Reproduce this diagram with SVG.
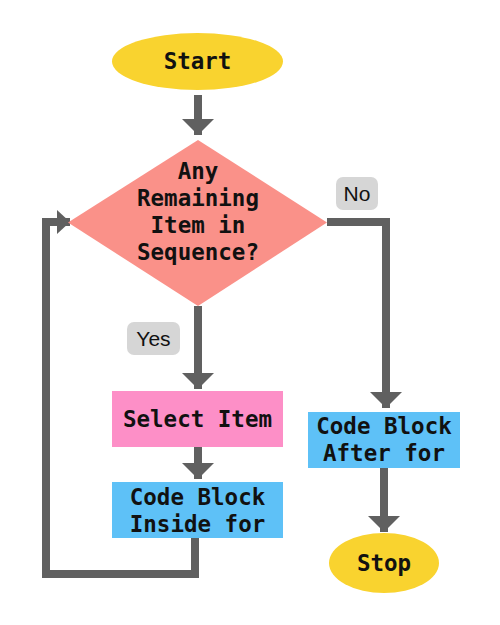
<svg xmlns="http://www.w3.org/2000/svg" width="500" height="625" viewBox="0 0 500 625">
<style>
.t{font-family:"DejaVu Sans Mono","Liberation Mono",monospace;font-weight:bold;font-size:22.5px;fill:#111;text-anchor:middle}
.l{font-family:"Liberation Sans","DejaVu Sans",sans-serif;font-size:21px;fill:#111;text-anchor:middle}
.c{fill:none;stroke:#606060;stroke-width:8}
.lb{fill:#d6d6d6}
</style>
<defs>
<marker id="ah" markerUnits="userSpaceOnUse" markerWidth="16" markerHeight="32" refX="16" refY="16" orient="auto" viewBox="0 0 16 32">
<path d="M0,0 L16,16 L0,32 Z" fill="#606060"/>
</marker>
<marker id="ahs" markerUnits="userSpaceOnUse" markerWidth="13" markerHeight="24" refX="13" refY="12" orient="auto" viewBox="0 0 13 24">
<path d="M0,0 L13,12 L0,24 Z" fill="#606060"/>
</marker>
</defs>
<rect width="500" height="625" fill="#fff"/>
<g id="connectors">
<path class="c" d="M198,95 L198,135" marker-end="url(#ah)"/>
<path class="c" d="M198,306 L198,389" marker-end="url(#ah)"/>
<path class="c" d="M198,447 L198,479" marker-end="url(#ah)"/>
<path class="c" d="M327,222 L386,222 L386,408" marker-end="url(#ah)"/>
<path class="c" d="M384,468 L384,532" marker-end="url(#ah)"/>
<path class="c" d="M195,538 L195,574 L46,574 L46,222 L70,222" marker-end="url(#ahs)"/>
</g>
<g id="start">
<ellipse cx="197.5" cy="61.5" rx="85.5" ry="28.5" fill="#f9d32f"/>
<text class="t" x="197.5" y="69">Start</text>
</g>
<g id="decision">
<polygon points="198,140 327,222.5 198,306 68,222.5" fill="#fa9189"/>
<text class="t" x="198" y="179">Any</text>
<text class="t" x="198" y="206">Remaining</text>
<text class="t" x="198" y="233">Item in</text>
<text class="t" x="198" y="260">Sequence?</text>
</g>
<g id="label-no">
<rect class="lb" x="336" y="177" width="42" height="33" rx="7"/>
<text class="l" x="357" y="201">No</text>
</g>
<g id="label-yes">
<rect class="lb" x="127" y="322" width="53" height="33" rx="7"/>
<text class="l" x="153.5" y="346">Yes</text>
</g>
<g id="select-item">
<rect x="112" y="391" width="171" height="56" fill="#fd8fc7"/>
<text class="t" x="197.5" y="427">Select Item</text>
</g>
<g id="code-inside">
<rect x="112" y="482" width="171" height="56" fill="#5ec1f7"/>
<text class="t" x="197.5" y="505">Code Block</text>
<text class="t" x="197.5" y="532">Inside for</text>
</g>
<g id="code-after">
<rect x="308" y="412" width="152" height="56" fill="#5ec1f7"/>
<text class="t" x="384" y="434">Code Block</text>
<text class="t" x="384" y="461">After for</text>
</g>
<g id="stop">
<ellipse cx="384" cy="563" rx="55" ry="30" fill="#f9d32f"/>
<text class="t" x="384" y="571">Stop</text>
</g>
</svg>
